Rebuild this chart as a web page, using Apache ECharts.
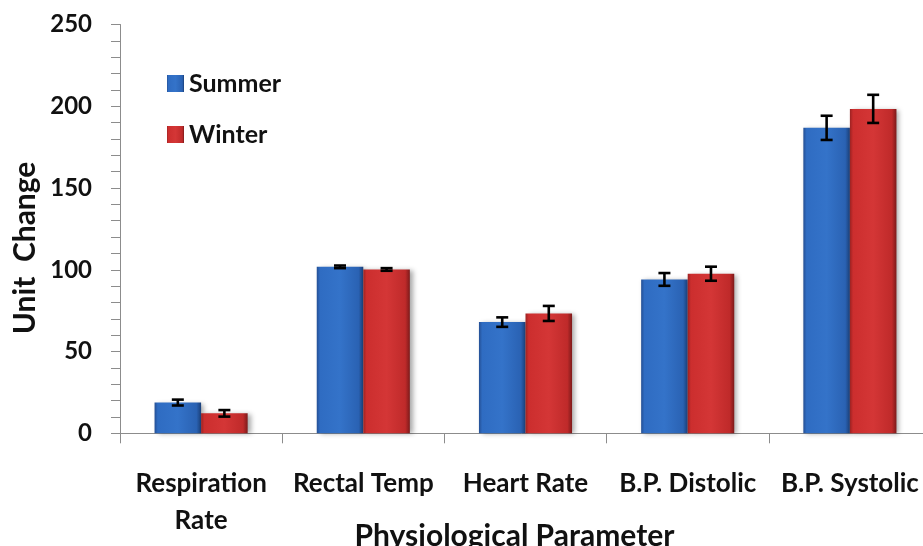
<!DOCTYPE html>
<html>
<head>
<meta charset="utf-8">
<script src="https://cdn.jsdelivr.net/npm/echarts@6/dist/echarts.min.js"></script>
<style>
html,body{margin:0;padding:0;background:#fff;}
#chart{width:923px;height:546px;}
</style>
</head>
<body>
<div id="chart"></div>
<script>
const categories = ['Respiration\nRate', 'Rectal Temp', 'Heart Rate', 'B.P. Distolic', 'B.P. Systolic'];
const seriesNames = ['Summer', 'Winter'];
const summerValues = [18.8, 101.8, 68.0, 94.1, 186.8];
const summerErrors = [1.8, 0.8, 2.9, 3.9, 7.4];
const winterValues = [12.2, 100.2, 73.3, 97.6, 198.4];
const winterErrors = [2.0, 0.8, 4.6, 4.3, 8.6];
const yTicks = [0, 50, 100, 150, 200, 250];

const FONT = 'Lato';
const BAR_FRAC = 0.287;

function barGrad(c0, c1, c2, c3, c4) {
  return new echarts.graphic.LinearGradient(0, 0, 1, 0, [
    {offset: 0, color: c0},
    {offset: 0.07, color: c1},
    {offset: 0.5, color: c2},
    {offset: 0.9, color: c3},
    {offset: 1, color: c4}
  ]);
}
const blueFill = barGrad('#244f94', '#2f6cc2', '#3473c9', '#2a62b3', '#1a3f78');
const redFill = barGrad('#9c2222', '#cc2e2e', '#d43636', '#bf2a2a', '#7d1a1a');

function errorSeries(values, errors, side) {
  const data = values.map((v, i) => [i, v, errors[i]]);
  return {
    type: 'custom',
    silent: true,
    z: 10,
    data: data,
    encode: {x: 0, y: 1},
    renderItem: function (params, api) {
      const idx = api.value(0);
      const val = api.value(1);
      const err = api.value(2);
      const band = api.size([1, 0])[0];
      const bw = band * BAR_FRAC;
      const top = api.coord([idx, val + err]);
      const bot = api.coord([idx, val - err]);
      const x = top[0] + side * bw / 2;
      const cap = 6;
      const style = {stroke: '#000', lineWidth: 2.6};
      return {
        type: 'group',
        children: [
          {type: 'line', shape: {x1: x, y1: top[1], x2: x, y2: bot[1]}, style: style},
          {type: 'line', shape: {x1: x - cap, y1: top[1], x2: x + cap, y2: top[1]}, style: style},
          {type: 'line', shape: {x1: x - cap, y1: bot[1], x2: x + cap, y2: bot[1]}, style: style}
        ]
      };
    }
  };
}

const chart = echarts.init(document.getElementById('chart'), null, {renderer: 'canvas'});
chart.setOption({
  backgroundColor: '#ffffff',
  animation: false,
  textStyle: {fontFamily: FONT},
  grid: {left: 120, top: 24.5, bottom: 112.7, right: -8, containLabel: false, outerBoundsMode: 'none'},
  legend: {
    data: seriesNames,
    orient: 'vertical',
    left: 162,
    top: 66,
    itemWidth: 17,
    itemHeight: 17,
    itemGap: 26,
    icon: 'rect',
    textStyle: {fontFamily: FONT, fontWeight: 'bold', fontSize: 25, color: '#111'}
  },
  xAxis: {
    type: 'category',
    data: categories,
    axisLine: {lineStyle: {color: '#8c8c8c', width: 1}},
    axisTick: {show: true, length: 10, lineStyle: {color: '#8c8c8c'}},
    axisLabel: {
      margin: 32,
      fontFamily: FONT, fontWeight: 'bold', fontSize: 26, color: '#111',
      lineHeight: 37, interval: 0
    },
    name: 'Physiological Parameter',
    nameLocation: 'middle',
    nameGap: 88,
    nameMoveOverlap: false,
    nameTextStyle: {fontFamily: FONT, fontWeight: 'bold', fontSize: 30, color: '#111', padding: [0, 22, 0, 0]}
  },
  yAxis: {
    type: 'value',
    min: yTicks[0],
    max: yTicks[yTicks.length - 1],
    interval: 50,
    axisLine: {show: true, lineStyle: {color: '#8c8c8c', width: 1}},
    axisTick: {show: true, length: 9, lineStyle: {color: '#8c8c8c'}},
    minorTick: {show: true, splitNumber: 5, length: 9, lineStyle: {color: '#8c8c8c'}},
    splitLine: {show: false},
    axisLabel: {
      margin: 28,
      fontFamily: FONT, fontWeight: 'bold', fontSize: 24, color: '#111'
    },
    name: 'Unit  Change',
    nameLocation: 'middle',
    nameGap: 80,
    nameMoveOverlap: false,
    nameRotate: 90,
    nameTextStyle: {fontFamily: FONT, fontWeight: 'bold', fontSize: 30, color: '#111', padding: [0, 38, 0, 0]}
  },
  series: [
    {
      name: seriesNames[0],
      type: 'bar',
      data: summerValues,
      barWidth: (BAR_FRAC * 100) + '%',
      barGap: '0%',
      itemStyle: {color: blueFill, shadowColor: 'rgba(0,0,0,0.35)', shadowBlur: 5, shadowOffsetX: 3, shadowOffsetY: 1}
    },
    {
      name: seriesNames[1],
      type: 'bar',
      data: winterValues,
      barWidth: (BAR_FRAC * 100) + '%',
      barGap: '0%',
      itemStyle: {color: redFill, shadowColor: 'rgba(0,0,0,0.35)', shadowBlur: 5, shadowOffsetX: 3, shadowOffsetY: 1}
    },
    errorSeries(summerValues, summerErrors, -1),
    errorSeries(winterValues, winterErrors, 1)
  ]
});
</script>
</body>
</html>
